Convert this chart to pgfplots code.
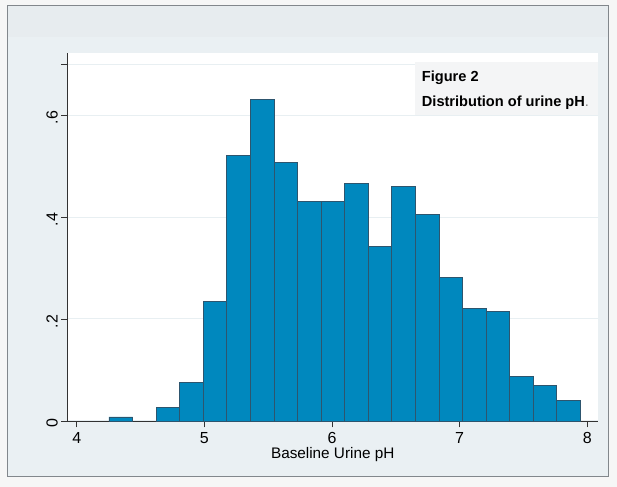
\documentclass[border=0pt]{standalone}
\usepackage{fontspec}
\setmainfont{Liberation Sans}
\usepackage{pgfplots}
\pgfplotsset{compat=1.18}
\definecolor{outerbg}{RGB}{246,246,246}
\definecolor{framebg}{RGB}{234,240,243}
\definecolor{bandbg}{RGB}{231,236,239}
\definecolor{framecol}{RGB}{130,135,140}
\definecolor{barfill}{RGB}{0,136,190}
\definecolor{baredge}{RGB}{45,85,110}
\definecolor{gridcol}{RGB}{232,239,242}
\definecolor{boxbg}{RGB}{244,245,246}
\definecolor{axiscol}{RGB}{50,50,50}
\begin{document}
\begin{tikzpicture}[x=1bp,y=1bp]
\useasboundingbox (0,0) rectangle (617,487);
\fill[outerbg] (0,0) rectangle (617,487);
\filldraw[fill=framebg, draw=framecol, line width=1bp] (7.5,10) rectangle (608,481);
\fill[bandbg] (8,450) rectangle (607.5,480.5);
\begin{axis}[
  at={(67.7bp,66bp)}, anchor=south west,
  scale only axis, width=530bp, height=368bp,
  xmin=3.9295, xmax=8.0815, ymin=0, ymax=0.7216,
  axis background/.style={fill=white},
  axis x line*=bottom, axis y line*=left,
  axis line style={-, draw=axiscol, line width=0.9bp},
  tick align=outside, major tick length=6.5bp,
  tick style={draw=axiscol, line width=0.9bp},
  xtick={4,5,6,7,8},
  ytick={0,0.2,0.4,0.6,0.7},
  yticklabels={0,.2,.4,.6,{}},
  ymajorgrids, grid style={draw=gridcol, line width=1bp},
  /pgf/number format/assume math mode=true,
  ticklabel style={font=\fontsize{16bp}{18bp}\selectfont},
  yticklabel style={rotate=90, anchor=south, xshift=-2.5bp},
  xticklabel style={yshift=-1bp},
  xlabel={Baseline Urine pH},
  xlabel style={font=\fontsize{15.3bp}{18bp}\selectfont, inner sep=0pt, yshift=-1bp},
  clip=false,
]
\addplot[ybar, bar width=0.1846, bar shift=0pt, fill=barfill, draw=baredge, line width=0.8bp]
coordinates {
(4.3453,0.008) (4.7145,0.027) (4.8991,0.076) (5.0837,0.234) (5.2683,0.521)
(5.4529,0.630) (5.6375,0.507) (5.8221,0.431) (6.0067,0.431) (6.1913,0.466)
(6.3759,0.343) (6.5605,0.460) (6.7451,0.405) (6.9297,0.281) (7.1143,0.220)
(7.2989,0.214) (7.4835,0.088) (7.6681,0.069) (7.8527,0.041)
};
\end{axis}
\fill[boxbg] (415,372) rectangle (597.7,425);
\node[anchor=base west, font=\bfseries\fontsize{14.6bp}{17bp}\selectfont, inner sep=0pt] at (421.7,405) {Figure 2};
\node[anchor=base west, font=\bfseries\fontsize{14.6bp}{17bp}\selectfont, inner sep=0pt] at (421.7,380) {Distribution of urine pH\textcolor{gray}{\mdseries.}};
\end{tikzpicture}
\end{document}
